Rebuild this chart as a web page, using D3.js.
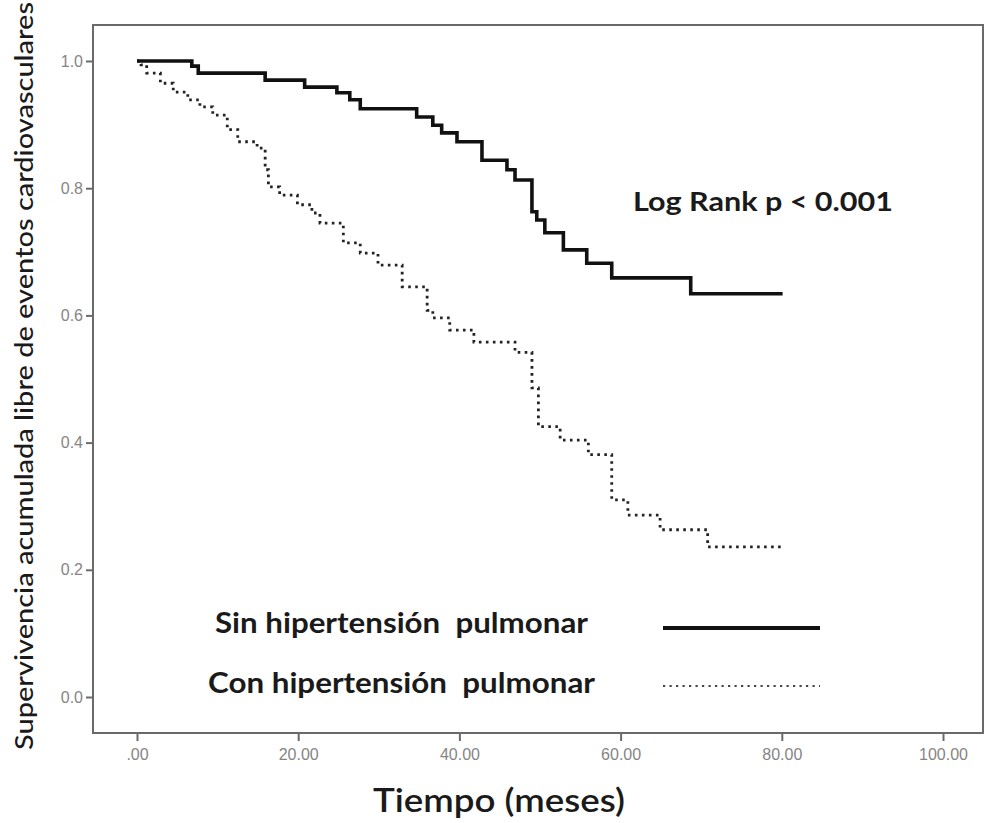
<!DOCTYPE html>
<html>

<head>
    <meta charset="utf-8">
    <style>
        body {
            margin: 0;
            background: #fff;
        }

        svg {
            display: block;
            font-family: Lato, 'Open Sans', sans-serif;
        }

        .axis .domain {
            display: none;
        }

        .axis .tick line {
            stroke: #6a6a6a;
            stroke-width: 2px;
        }

        .axis .tick text {
            font-family: 'Liberation Sans', Arial, sans-serif;
            font-size: 16px;
            fill: #858585;
        }

        .legend text {
            white-space: pre;
        }
    </style>
</head>

<body>
    <svg width="984" height="823"></svg>

    <script src="https://d3js.org/d3.v7.min.js"></script>
    <script>
        // Kaplan-Meier steps: time of each drop (months) and survival after it
        const sinTimes = [0, 6.8, 7.6, 15.9, 20.8, 24.8, 26.4, 27.7, 34.7, 36.7, 37.8, 39.7, 42.8, 45.9, 46.9, 49.0, 49.6, 50.6, 52.9, 55.8, 58.9, 68.7]
        const sinSurv = [1.0, 0.992, 0.981, 0.970, 0.959, 0.950, 0.939, 0.925, 0.912, 0.899, 0.887, 0.873, 0.844, 0.829, 0.813, 0.763, 0.750, 0.730, 0.703, 0.682, 0.659, 0.634]
        const sinEnd = 80.1

        const conTimes = [0, 0.5, 1.2, 2.9, 4.5, 6.3, 7.8, 9.4, 11.2, 12.5, 14.9, 15.9, 16.3, 17.7, 19.9, 21.7, 22.7, 25.6, 27.7, 29.9, 32.9, 36.0, 36.7, 38.8, 41.8, 46.9, 49.0, 49.8, 52.5, 56.0, 58.9, 60.9, 64.9, 70.8]
        const conSurv = [1.0, 0.994, 0.981, 0.965, 0.951, 0.939, 0.928, 0.915, 0.892, 0.873, 0.863, 0.829, 0.802, 0.789, 0.774, 0.761, 0.745, 0.714, 0.698, 0.679, 0.645, 0.608, 0.596, 0.577, 0.558, 0.542, 0.486, 0.425, 0.404, 0.381, 0.310, 0.286, 0.263, 0.236]
        const conEnd = 80.0

        const xTicks = [0, 20, 40, 60, 80, 100]
        const xTickLabels = [".00", "20.00", "40.00", "60.00", "80.00", "100.00"]
        const yTicks = [0, 0.2, 0.4, 0.6, 0.8, 1.0]
        const yTickLabels = ["0.0", "0.2", "0.4", "0.6", "0.8", "1.0"]

        const legendLabels = ["Sin hipertensión  pulmonar", "Con hipertensión  pulmonar"]

        let svg = d3.select("svg")

        // plot frame in pixels
        let frame = { left: 93, top: 25, right: 983, bottom: 733 }

        let x = d3.scaleLinear()
            .domain([0, 100])
            .range([137, 943])

        let y = d3.scaleLinear()
            .domain([0, 1])
            .range([697, 61])

        // frame
        svg.append("rect")
            .attr("x", frame.left)
            .attr("y", frame.top)
            .attr("width", frame.right - frame.left)
            .attr("height", frame.bottom - frame.top)
            .style("fill", "none")
            .style("stroke", "#6a6a6a")
            .style("stroke-width", 2)

        // axes
        svg.append("g")
            .attr("class", "y axis")
            .attr("transform", `translate(${frame.left},0)`)
            .call(d3.axisLeft(y)
                .tickValues(yTicks)
                .tickFormat((d, i) => yTickLabels[i])
                .tickSize(7)
                .tickPadding(3))

        svg.append("g")
            .attr("class", "x axis")
            .attr("transform", `translate(0,${frame.bottom})`)
            .call(d3.axisBottom(x)
                .tickValues(xTicks)
                .tickFormat((d, i) => xTickLabels[i])
                .tickSize(8)
                .tickPadding(8))

        // survival curves
        function stepData(times, surv, end) {
            let pts = times.map((t, i) => ({ t: t, s: surv[i] }))
            pts.push({ t: end, s: surv[surv.length - 1] })
            return pts
        }

        let line = d3.line()
            .curve(d3.curveStepAfter)
            .x(d => x(d.t))
            .y(d => y(d.s))

        svg.append("path")
            .attr("d", line(stepData(conTimes, conSurv, conEnd)))
            .style("fill", "none")
            .style("stroke", "#222")
            .style("stroke-width", 2.8)
            .style("stroke-dasharray", "2.6,4.4")

        svg.append("path")
            .attr("d", line(stepData(sinTimes, sinSurv, sinEnd)))
            .style("fill", "none")
            .style("stroke", "#111")
            .style("stroke-width", 3.6)

        // log rank note
        svg.append("text")
            .attr("x", 633)
            .attr("y", 211)
            .attr("textLength", 260)
            .attr("lengthAdjust", "spacingAndGlyphs")
            .style("font-size", "26px")
            .style("font-weight", "bold")
            .style("fill", "#1a1a1a")
            .text("Log Rank p < 0.001")

        // legend
        let legendY = [628, 686]
        let legendLeft = [215, 208]
        let legendWidth = [373, 387]
        let legend = svg.append("g").attr("class", "legend")

        legend.selectAll("text")
            .data(legendLabels)
            .join("text")
            .attr("x", (d, i) => legendLeft[i])
            .attr("y", (d, i) => legendY[i] + 5 + i * 2)
            .attr("textLength", (d, i) => legendWidth[i])
            .attr("lengthAdjust", "spacingAndGlyphs")
            .style("font-size", "28px")
            .style("font-weight", "bold")
            .style("fill", "#1a1a1a")
            .text(d => d)

        legend.append("line")
            .attr("x1", 663).attr("x2", 820)
            .attr("y1", legendY[0]).attr("y2", legendY[0])
            .style("stroke", "#111")
            .style("stroke-width", 4)

        legend.append("line")
            .attr("x1", 663).attr("x2", 820)
            .attr("y1", legendY[1]).attr("y2", legendY[1])
            .style("stroke", "#444")
            .style("stroke-width", 2.2)
            .style("stroke-dasharray", "2.2,4.3")

        // axis titles
        svg.append("text")
            .attr("x", 373)
            .attr("y", 812)
            .attr("textLength", 252)
            .attr("lengthAdjust", "spacingAndGlyphs")
            .style("font-size", "32px")
            .style("font-weight", "600")
            .style("fill", "#1a1a1a")
            .text("Tiempo (meses)")

        svg.append("text")
            .attr("transform", "translate(33,750) rotate(-90)")
            .attr("textLength", 748)
            .attr("lengthAdjust", "spacingAndGlyphs")
            .style("font-size", "25px")
            .style("font-weight", "500")
            .style("fill", "#1a1a1a")
            .text("Supervivencia acumulada libre de eventos cardiovasculares")
    </script>
</body>

</html>
